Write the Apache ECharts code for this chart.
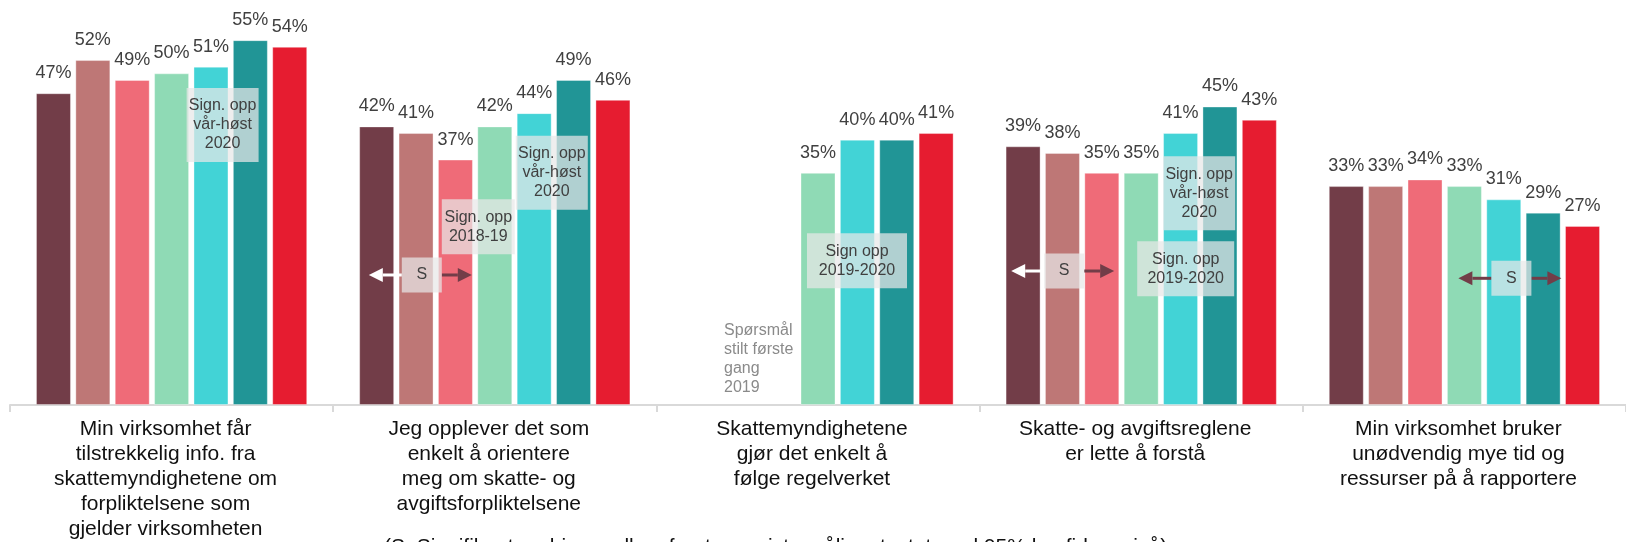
<!DOCTYPE html>
<html>
<head>
<meta charset="utf-8">
<script src="https://cdn.jsdelivr.net/npm/echarts@6/dist/echarts.min.js"></script>
<style>
  html, body { margin: 0; padding: 0; background: #fff; }
  #chart { width: 1626px; height: 542px; }
</style>
</head>
<body>
<div id="chart"></div>
<script>
// kategorier (påstander)
const categories = [
  'Min virksomhet får\ntilstrekkelig info. fra\nskattemyndighetene om\nforpliktelsene som\ngjelder virksomheten',
  'Jeg opplever det som\nenkelt å orientere\nmeg om skatte- og\navgiftsforpliktelsene',
  'Skattemyndighetene\ngjør det enkelt å\nfølge regelverket',
  'Skatte- og avgiftsreglene\ner lette å forstå',
  'Min virksomhet bruker\nunødvendig mye tid og\nressurser på å rapportere'
]

// målinger, andel enig (%)
const v2016 = [47, 42, '-', 39, 33]
const v2017 = [52, 41, '-', 38, 33]
const v2018 = [49, 37, '-', 35, 34]
const v2019 = [50, 42, 35, 35, 33]
const v2020var = [51, 44, 40, 41, 31]
const v2020host = [55, 49, 40, 45, 29]
const v2021 = [54, 46, 41, 43, 27]

const seriesNames = ['2016', '2017', '2018', '2019', '2020 vår', '2020 høst', '2021']
const seriesValues = [v2016, v2017, v2018, v2019, v2020var, v2020host, v2021]
const colors = ['#723D48', '#BE7776', '#EF6B78', '#8FDAB5', '#42D3D6', '#219596', '#E61C30']

const footnote = '(S: Signifikant endring mellom første og siste måling, testet med 95% konfidensnivå)'

const FONT = "'Liberation Sans', Arial, sans-serif"
const chart = echarts.init(document.getElementById('chart'))

const option = {
  animation: false,
  grid: { left: 10, width: 1630, top: 7, bottom: 132, containLabel: false },
  xAxis: {
    type: 'category',
    data: categories,
    axisLine: { lineStyle: { color: '#d9d9d9', width: 2 } },
    axisTick: { show: true, length: 7, lineStyle: { color: '#d9d9d9', width: 2 } },
    axisLabel: {
      interval: 0,
      margin: 12,
      fontFamily: FONT,
      fontSize: 21,
      lineHeight: 25,
      color: '#111',
      padding: [0, 12, 0, 0]
    }
  },
  yAxis: { type: 'value', min: 0, max: 60, show: false, splitLine: { show: false } },
  series: seriesNames.map((name, i) => ({
    name: name,
    type: 'bar',
    data: seriesValues[i],
    barWidth: 35,
    barGap: '12.5%',
    itemStyle: { color: colors[i], borderColor: 'rgba(255,255,255,0.35)', borderWidth: 1 },
    label: {
      show: true,
      position: 'top',
      distance: 11,
      formatter: '{c}%',
      fontFamily: FONT,
      fontSize: 18,
      color: '#404040'
    }
  }))
}

chart.setOption(option)

// signifikans-bokser
const boxNotes = [
  { cat: 0, dx: 51, top: 47.8, w: 72, h: 74, text: 'Sign. opp\nvår-høst\n2020' },
  { cat: 1, dx: -16.5, top: 31.0, w: 73, h: 55, text: 'Sign. opp\n2018-19' },
  { cat: 1, dx: 57, top: 40.6, w: 72, h: 74, text: 'Sign. opp\nvår-høst\n2020' },
  { cat: 2, dx: 39, top: 25.9, w: 100, h: 55, text: 'Sign opp\n2019-2020' },
  { cat: 3, dx: 58, top: 37.5, w: 72, h: 74, text: 'Sign. opp\nvår-høst\n2020' },
  { cat: 3, dx: 44.5, top: 24.7, w: 97, h: 55, text: 'Sign. opp\n2019-2020' }
]

const sNotes = [
  { cat: 1, dx: -73, mid: 19.6, leftColor: '#ffffff', rightColor: '#723D48' },
  { cat: 3, dx: -77, mid: 20.2, leftColor: '#ffffff', rightColor: '#723D48' },
  { cat: 4, dx: 47, mid: 19.1, leftColor: '#723D48', rightColor: '#723D48' }
]

const arrow = (x0, x1, y, color) => {
  const dir = x1 > x0 ? 1 : -1
  const headLen = 14
  return [
    { type: 'line', z: 100, shape: { x1: x0, y1: y, x2: x1 - dir * headLen, y2: y }, style: { stroke: color, lineWidth: 3 } },
    { type: 'polygon', z: 100, shape: { points: [[x1, y], [x1 - dir * headLen, y - 7], [x1 - dir * headLen, y + 7]] }, style: { fill: color } }
  ]
}

function drawNotes() {
  const els = []
  const xOf = (c) => chart.convertToPixel({ xAxisIndex: 0 }, c)
  const yOf = (v) => chart.convertToPixel({ yAxisIndex: 0 }, v)

  boxNotes.forEach(n => {
    const cx = xOf(n.cat) + n.dx
    const y0 = yOf(n.top)
    els.push({ type: 'rect', z: 100, shape: { x: cx - n.w / 2, y: y0, width: n.w, height: n.h }, style: { fill: 'rgba(231,231,231,0.72)' } })
    els.push({
      type: 'text', z: 101, x: cx, y: y0 + n.h / 2,
      style: { text: n.text, align: 'center', verticalAlign: 'middle', font: '16px ' + FONT, lineHeight: 19, fill: '#404040' }
    })
  })

  sNotes.forEach(n => {
    const cx = xOf(n.cat) + n.dx
    const cy = yOf(n.mid)
    els.push(...arrow(cx - 20, cx - 53, cy, n.leftColor))
    els.push(...arrow(cx + 20, cx + 50, cy, n.rightColor))
    els.push({ type: 'rect', z: 100, shape: { x: cx - 20, y: cy - 17.5, width: 40, height: 35 }, style: { fill: 'rgba(231,231,231,0.72)' } })
    els.push({
      type: 'text', z: 101, x: cx, y: cy,
      style: { text: 'S', align: 'center', verticalAlign: 'middle', font: '16px ' + FONT, fill: '#404040' }
    })
  })

  // merknad for spørsmål uten tidligere målinger
  els.push({
    type: 'text', z: 101, x: xOf(2) - 94, y: 321,
    style: { text: 'Spørsmål\nstilt første\ngang\n2019', align: 'left', verticalAlign: 'top', font: '16px ' + FONT, lineHeight: 19, fill: '#8a8a8a' }
  })

  // fotnote (delvis utenfor bildet, som i originalen)
  els.push({
    type: 'text', z: 101, x: 384, y: 537,
    style: { text: footnote, align: 'left', verticalAlign: 'top', font: '21px ' + FONT, fill: '#111' }
  })

  chart.setOption({ graphic: { elements: els } }, { replaceMerge: ['graphic'] })
}

drawNotes()
window.addEventListener('resize', () => { chart.resize(); drawNotes() })
</script>
</body>
</html>
